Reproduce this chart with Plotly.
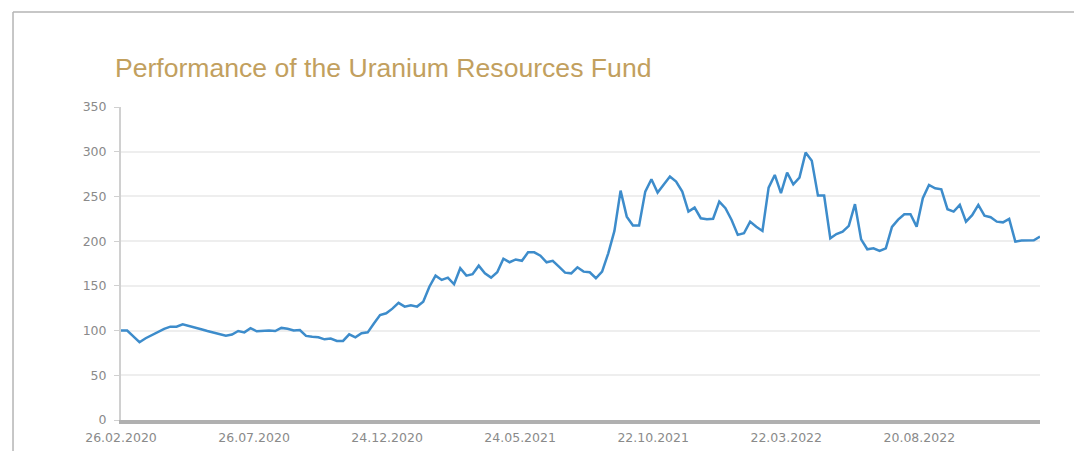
import pandas as pd
import plotly.graph_objects as go

# weekly fund values (start = 100)
start_date = '2020-02-26'
fund_values = [
    100, 100, 93.5, 87, 91.4, 95, 98.5, 102, 104.4, 104.4,
    107, 105, 102.6, 101.4, 99.5, 97.7, 96, 94.3, 95.5, 99.5,
    98, 102.6, 99.2, 100, 100, 99.5, 103, 102, 100, 100.5,
    94, 93, 92.5, 90.2, 91, 88.4, 88.4, 95.8, 92.5, 97,
    98, 108, 117.4, 119.3, 124.5, 131, 126.8, 128.3, 126.8, 132.3,
    149, 161.4, 156.6, 159.2, 151.8, 169.7, 161.4, 163, 172.6, 164,
    159.2, 165.2, 180.4, 176.4, 179.5, 178, 187.5, 187.5, 183.8, 176.4,
    178, 171.5, 164.8, 164, 170.8, 165.9, 165.2, 158.5, 165.9, 186.4,
    211.4, 256.5, 227.4, 217.4, 217.4, 255.4, 269.2, 254.3, 262.9, 272.2,
    266.6, 255.4, 233, 237.5, 225.6, 224.5, 225, 244.2, 236.8, 223.7,
    207, 208.8, 221.8, 216, 211.4, 259.9, 274, 253.6, 276.6, 263.6,
    271, 299, 290, 250.9, 250.9, 203.2, 208, 210.7, 217, 241.3,
    202, 190.9, 192, 189, 192, 216, 224, 230, 230, 216.2,
    248, 262.9, 259.1, 258, 235.7, 233, 240.5, 221.8, 229, 240.5,
    228.5, 226.7, 221.8, 221, 224.8, 199.5, 200.6, 200.8, 201, 205,
]
tick_dates = ['2020-02-26', '2020-07-26', '2020-12-24', '2021-05-24',
              '2021-10-22', '2022-03-22', '2022-08-20']
tick_labels = ['26.02.2020', '26.07.2020', '24.12.2020', '24.05.2021',
               '22.10.2021', '22.03.2022', '20.08.2022']

dates = pd.date_range(start_date, periods=len(fund_values), freq='7D')

fig = go.Figure()
fig.add_trace(go.Scatter(
    x=dates, y=fund_values, mode='lines',
    line=dict(color='#3d8ccb', width=2.5),
    hoverinfo='x+y', showlegend=False,
))

GRAY_TXT = '#8a8a8a'
fig.update_layout(
    width=1074, height=451,
    plot_bgcolor='white', paper_bgcolor='white',
    margin=dict(l=121, r=34, t=107, b=31),
    font=dict(family='DejaVu Sans, Verdana, sans-serif', size=12, color=GRAY_TXT),
    title=dict(
        text='Performance of the Uranium Resources Fund',
        font=dict(family='Liberation Sans, Arial, sans-serif', size=26.6, color='#c2a05e'),
        x=0.107, xref='container', xanchor='left',
        y=0.851, yref='container', yanchor='middle',
    ),
    xaxis=dict(
        type='date', automargin=False,
        range=[dates[0], dates[-1]],
        tickvals=tick_dates, ticktext=tick_labels,
        showgrid=False, zeroline=False,
        showline=True, linewidth=4, linecolor='#b0b0b0',
        ticks='', ticklabelstandoff=3,
        tickfont=dict(size=12.5, color=GRAY_TXT),
    ),
    yaxis=dict(
        range=[0, 350], dtick=50, automargin=False,
        showgrid=True, gridcolor='#eeeeee', gridwidth=1.5,
        zeroline=False,
        showline=True, linewidth=2, linecolor='#d0d0d0',
        ticks='outside', ticklen=5, tickcolor='#d0d0d0',
        ticklabelstandoff=5,
        tickfont=dict(size=12.5, color=GRAY_TXT),
    ),
)

# thin frame lines of the surrounding card (top and left edges)
fig.add_shape(type='line', xref='paper', yref='paper',
              x0=-0.1175, x1=1.04, y0=1.3035, y1=1.3035,
              line=dict(color='#b5b5b5', width=1.5))
fig.add_shape(type='line', xref='paper', yref='paper',
              x0=-0.1175, x1=-0.1175, y0=1.3035, y1=-0.1,
              line=dict(color='#b5b5b5', width=1.5))

# drop the default page margin so the figure sits at the window's corner
fig.write_html('out.html', config={'displayModeBar': False},
               post_script="document.body.style.margin='0px';")
